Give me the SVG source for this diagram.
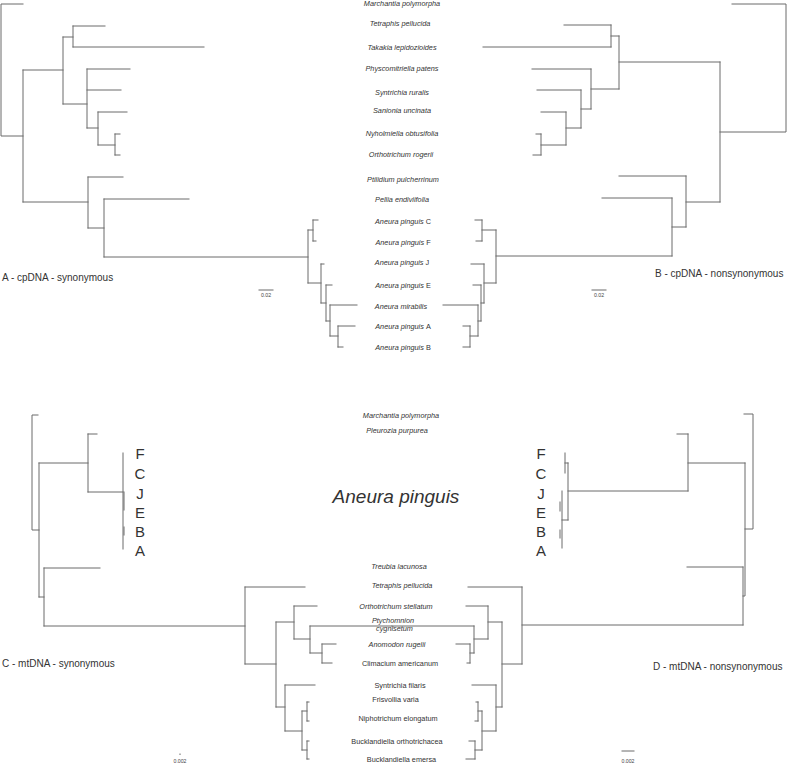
<svg xmlns="http://www.w3.org/2000/svg" width="787" height="767" viewBox="0 0 787 767">
<style>
.e{fill:none;stroke:#6a6a6a;stroke-width:1;stroke-linecap:square}
.t{font-family:"Liberation Sans",Arial,sans-serif;font-size:7.3px;font-style:italic;fill:#333;text-anchor:middle}
.n{font-style:normal}
.big{font-family:"Liberation Sans",Arial,sans-serif;font-size:15px;fill:#333;text-anchor:middle}
.ap{font-family:"Liberation Sans",Arial,sans-serif;font-size:19px;font-style:italic;fill:#333;text-anchor:middle}
.cap{font-family:"Liberation Sans",Arial,sans-serif;font-size:10px;fill:#333}
.sc{font-family:"Liberation Sans",Arial,sans-serif;font-size:5.2px;fill:#444;text-anchor:middle}
</style>
<rect width="787" height="767" fill="#fff"/>
<g id="connectors">
<g id="treeA">
<path class="e" d="M23 4H1V136H23M23 70V202M23 70H63M63 37V104M63 37H73M73 26V47M73 26H105M73 47H204M63 104H87M87 69V128M87 69H130M87 90H121M87 128H98M98 112V145M98 112H127M98 145H115M115 134V155M115 134H120M115 155H120M23 202H88M88 177V228M88 177H123M88 228H104M104 199V257M104 199H189M104 257H308M308 230V283M308 230H313M313 220V241M313 220H318M313 241H316M308 283H321M321 264V303M321 264H324M321 303H326M326 285V321M326 285H332M326 321H330M330 305V336M330 305H357M330 336H338M338 326V347M338 326H355M338 347H343"/>
</g>
<g id="treeB">
<path class="e" d="M732 4H786V132H720M720 62V202M720 62H619M619 36V89M619 36H611M611 25V47M611 25H564M611 47H483M619 89H591M591 69V109M591 69H532M591 109H581M581 90V128M581 90H537M581 128H566M566 112V145M566 112H541M566 145H541M541 134V155M541 134H536M541 155H533M720 202H686M686 176V227M686 176H619M686 227H672M672 198V256M672 198H602M672 256H496M496 230V283M496 230H482M482 220V241M482 220H475M482 241H476M496 283H484M484 264V303M484 264H471M484 303H481M481 285V321M481 285H473M481 321H478M478 305V336M478 305H443M478 336H470M470 326V347M470 326H463M470 347H463"/>
</g>
<g id="treeC">
<path class="e" d="M38 415H32V530H39M39 463V597M39 463H88M88 434V492M88 434H97M88 492H123M123 453V549M39 597H44M44 568V626M44 568H100M44 626H245M245 587V664M245 587H305M245 664H276M276 622V707M276 622H294M294 606V639M294 606H317M294 639H310M310 626V653M310 626H392M310 653H322M322 644V663M322 644H336M322 663H332M276 707H285M285 685V731M285 685H315M285 731H302M302 711V750M302 711H307M307 702V721M307 702H309M307 721H309M302 750H307M307 741V759M307 741H309M307 759H309"/>
<path class="e" d="M124 492V510M124 527V535"/>
</g>
<g id="treeD">
<path class="e" d="M744 414H753V529H745M745 463V596H743M745 463H688M688 434V491M688 434H677M688 491H568M568 463V520M568 463H565M565 453V473M568 520H562M562 491V548M743 567V625M743 567H687M743 625H522M522 587V664M522 587H468M522 664H502M502 622V707M502 622H488M488 606V639M488 606H466M488 639H474M474 626V653M474 626H392M474 653H470M470 644V663M470 644H456M470 663H467M502 707H496M496 685V731M496 685H472M496 731H482M482 711V750M482 711H478M478 702V721M478 702H476M478 721H475M482 750H475M475 741V759M475 741H469M475 759H466"/>
<path class="e" d="M560 502V511M560 530V538"/>
</g>
<g id="scalebars">
<path class="e" d="M259 290H273M592 290H606M622 751H634M180 754V754.5"/>
</g>
</g>
<g id="labelsA">
<g id="a-marchantia"><text class="t" x="402" y="6">Marchantia polymorpha</text></g>
<g id="a-tetraphis"><text class="t" x="400" y="26">Tetraphis pellucida</text></g>
<g id="a-takakia"><text class="t" x="402" y="49.5">Takakia lepidozioides</text></g>
<g id="a-physco"><text class="t" x="402" y="70.5">Physcomitriella patens</text></g>
<g id="a-syntrichia"><text class="t" x="402" y="94.5">Syntrichia ruralis</text></g>
<g id="a-sanionia"><text class="t" x="402" y="112.5">Sanionia uncinata</text></g>
<g id="a-nyholmiella"><text class="t" x="402" y="135.5">Nyholmiella obtusifolia</text></g>
<g id="a-orthotrichum"><text class="t" x="401" y="156.5">Orthotrichum rogerii</text></g>
<g id="a-ptilidium"><text class="t" x="403" y="181.5">Ptilidium pulcherrinum</text></g>
<g id="a-pellia"><text class="t" x="402" y="201.5">Pellia endiviifolia</text></g>
<g id="a-apC"><text class="t" x="403" y="223.5">Aneura pinguis <tspan class="n">C</tspan></text></g>
<g id="a-apF"><text class="t" x="403" y="244.5">Aneura pinguis <tspan class="n">F</tspan></text></g>
<g id="a-apJ"><text class="t" x="402" y="264.5">Aneura pinguis <tspan class="n">J</tspan></text></g>
<g id="a-apE"><text class="t" x="403" y="287.5">Aneura pinguis <tspan class="n">E</tspan></text></g>
<g id="a-mirabilis"><text class="t" x="401" y="308.5">Aneura mirabilis</text></g>
<g id="a-apA"><text class="t" x="403" y="328.5">Aneura pinguis <tspan class="n">A</tspan></text></g>
<g id="a-apB"><text class="t" x="403" y="349.5">Aneura pinguis <tspan class="n">B</tspan></text></g>
</g>
<g id="captions">
<g id="capA"><text class="cap" x="2" y="280.5">A - cpDNA - synonymous</text></g>
<g id="capB"><text class="cap" x="655" y="276.5">B - cpDNA - nonsynonymous</text></g>
<g id="capC"><text class="cap" x="2" y="666.5">C - mtDNA - synonymous</text></g>
<g id="capD"><text class="cap" x="653" y="669.5">D - mtDNA - nonsynonymous</text></g>
<g id="sc1"><text class="sc" x="266" y="297">0.02</text></g>
<g id="sc2"><text class="sc" x="599" y="297">0.02</text></g>
<g id="sc3"><text class="sc" x="180" y="763">0.002</text></g>
<g id="sc4"><text class="sc" x="628" y="763">0.002</text></g>
</g>
<g id="labelsC">
<g id="c-marchantia"><text class="t" x="401" y="417.5">Marchantia polymorpha</text></g>
<g id="c-pleurozia"><text class="t" x="397" y="432.5">Pleurozia purpurea</text></g>
<g id="c-aneura"><text class="ap" x="396" y="503">Aneura pinguis</text></g>
<g id="c-letters-left">
<text class="big" x="140" y="458.5">F</text><text class="big" x="140" y="478.5">C</text><text class="big" x="140" y="498.5">J</text><text class="big" x="140" y="517.5">E</text><text class="big" x="140" y="536.5">B</text><text class="big" x="140" y="555.5">A</text>
</g>
<g id="c-letters-right">
<text class="big" x="541" y="458.5">F</text><text class="big" x="541" y="478.5">C</text><text class="big" x="541" y="498.5">J</text><text class="big" x="541" y="517.5">E</text><text class="big" x="541" y="536.5">B</text><text class="big" x="541" y="555.5">A</text>
</g>
<g id="c-treubia"><text class="t" x="399" y="568.5">Treubia lacunosa</text></g>
<g id="c-tetraphis"><text class="t" x="402" y="587.5">Tetraphis pellucida</text></g>
<g id="c-orthostellatum"><text class="t" x="396" y="608.5">Orthotrichum stellatum</text></g>
<g id="c-ptychomnion"><text class="t" x="393" y="623">Ptychomnion</text><text class="t" x="394.5" y="630.5">cygnisetum</text></g>
<g id="c-anomodon"><text class="t" x="397" y="646.5">Anomodon rugelii</text></g>
<g id="c-climacium"><text class="t n" x="400" y="665.5">Climacium americanum</text></g>
<g id="c-syntrichia"><text class="t n" x="400" y="687.5">Syntrichia filaris</text></g>
<g id="c-frisvollia"><text class="t n" x="395.5" y="701.5">Frisvollia varia</text></g>
<g id="c-niphotrichum"><text class="t n" x="398" y="720.5">Niphotrichum elongatum</text></g>
<g id="c-buckorth"><text class="t n" x="397" y="743.5">Bucklandiella orthotrichacea</text></g>
<g id="c-buckemersa"><text class="t n" x="401.5" y="761.5">Bucklandiella emersa</text></g>
</g>
</svg>
